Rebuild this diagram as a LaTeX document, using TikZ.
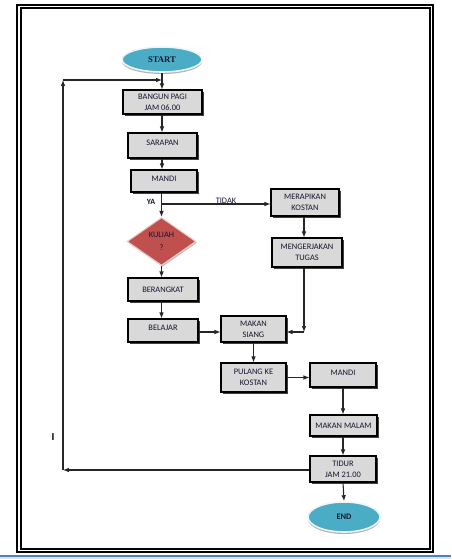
\documentclass[tikz,border=0pt]{standalone}
\usepackage{fontspec}
\setmainfont{Carlito}
\newfontfamily\serifb{Liberation Serif}
\usetikzlibrary{shapes.geometric,arrows.meta,shadows}
\definecolor{boxgray}{HTML}{D9D9D9}
\definecolor{ellblue}{HTML}{4BACC6}
\definecolor{diared}{HTML}{C0504D}
\definecolor{txt}{HTML}{15152E}
\definecolor{lineblue}{HTML}{4F81BD}
\definecolor{paleblue}{HTML}{DCE6F2}
\tikzset{
  stepbox/.style={rectangle, draw=black, line width=0.8pt, fill=boxgray,
    drop shadow={shadow xshift=1.2pt, shadow yshift=-1.2pt, fill=black!75, opacity=1},
    inner sep=0pt, align=center, text=txt, font=\fontsize{6.3}{8.5}\selectfont},
  upper/.style={text depth=4pt},
  term/.style={ellipse, draw=white!90!ellblue, line width=1.2pt, fill=ellblue, inner sep=0pt,
    drop shadow={shadow xshift=0pt, shadow yshift=-1.5pt, fill=black!30, opacity=1}},
  decide/.style={diamond, draw=diared!30, line width=0.8pt, fill=diared, inner sep=0pt,
    drop shadow={shadow xshift=0.8pt, shadow yshift=-1pt, fill=black!25, opacity=1},
    align=center, text=txt, font=\fontsize{6.3}{9.5}\selectfont},
  conn/.style={line width=0.8pt, draw=black!85, -{Latex[length=4.5pt,width=3.5pt]}},
  plain/.style={line width=0.8pt, draw=black!85},
  lbl/.style={text=txt, font=\fontsize{6}{7}\selectfont\bfseries, inner sep=0pt}
}
\begin{document}
\begin{tikzpicture}[x=0.75pt,y=-0.75pt]
\useasboundingbox (0,0) rectangle (451,559);
\fill[white] (0,0) rectangle (451,559);
% page frame
\draw[line width=0.8pt] (17,5) rectangle (433,552);
\draw[line width=0.8pt] (21,8) rectangle (430,549);
\fill[paleblue] (0,556) rectangle (451,559);
\draw[lineblue, line width=0.9pt] (0,556) -- (451,556);

% nodes
\node[term, minimum width=60pt, minimum height=18.75pt, font=\serifb\fontsize{6.5}{7}\selectfont\bfseries, text=txt] (start) at (162,59.5) {START};
\node[stepbox, minimum width=59.25pt, minimum height=18pt] (bangun) at (162.5,102) {BANGUN PAGI\\JAM 06.00};
\node[stepbox, upper, minimum width=51.75pt, minimum height=18.75pt] (sarapan) at (162.5,145.5) {SARAPAN};
\node[stepbox, upper, minimum width=49.5pt, minimum height=16.5pt] (mandi) at (164,181) {MANDI};
\node[decide, minimum width=51.75pt, minimum height=36pt] (kuliah) at (161.5,241.5) {KULIAH\\?};
\node[stepbox, minimum width=52.5pt, minimum height=17.25pt] (berangkat) at (163,289.5) {BERANGKAT};
\node[stepbox, upper, minimum width=52.5pt, minimum height=17.25pt] (belajar) at (163,330.5) {BELAJAR};
\node[stepbox, minimum width=48.75pt, minimum height=19.5pt] (siang) at (253.5,329) {MAKAN\\SIANG};
\node[stepbox, minimum width=51pt, minimum height=20.25pt] (merapikan) at (305,202.5) {MERAPIKAN\\KOSTAN};
\node[stepbox, minimum width=52.5pt, minimum height=21.75pt] (tugas) at (307,252.5) {MENGERJAKAN\\TUGAS};
\node[stepbox, minimum width=48.75pt, minimum height=21.75pt] (pulang) at (253.5,377.5) {PULANG KE\\KOSTAN};
\node[stepbox, upper, minimum width=49.5pt, minimum height=18pt] (mandib) at (343,375) {MANDI};
\node[stepbox, minimum width=50.25pt, minimum height=15.75pt] (malam) at (343.5,425.5) {MAKAN MALAM};
\node[stepbox, minimum width=49.5pt, minimum height=19.5pt] (tidur) at (343,469) {TIDUR\\JAM 21.00};
\node[term, minimum width=54pt, minimum height=22.5pt, font=\fontsize{6.3}{7}\selectfont\bfseries, text=txt] (end) at (344,517) {END};

% labels
\node[lbl] (ya) at (151,202) {YA};
\node[lbl, font=\fontsize{6.3}{7}\selectfont] (tidak) at (226,200.5) {TIDAK};
\node[lbl, font=\fontsize{8}{9}\selectfont\bfseries, text=black] (bar) at (53,437) {I};

% helper coordinates
\coordinate (loopbl) at (63,470);
\coordinate (looptl) at (63,80);
\coordinate (branch) at (161.5,204);
\coordinate (tcorner) at (304,332);

% connectors
\draw[conn] (start.south) -- (bangun.north -| start.south);
\draw[conn] (bangun.south -| start.south) -- (sarapan.north -| start.south);
\draw[conn] (sarapan.south -| start.south) -- (mandi.north -| start.south);
\draw[plain] (mandi.south -| kuliah.north) -- (branch);
\draw[conn] (branch) -- (kuliah.north);
\draw[conn] (branch) -- (branch -| merapikan.west);
\draw[conn] (kuliah.south) -- (kuliah.south |- berangkat.north);
\draw[conn] (berangkat.south -| kuliah.south) -- (belajar.north -| kuliah.south);
\draw[conn] (belajar.east |- tcorner) -- (siang.west |- tcorner);
\draw[conn] (merapikan.south -| tcorner) -- (tugas.north -| tcorner);
\draw[conn] (tugas.south -| tcorner) -- (tcorner);
\draw[conn] (tcorner) -- (siang.east |- tcorner);
\draw[conn] (siang.south) -- (pulang.north);
\draw[conn] (pulang.east) -- (mandib.west |- pulang.east);
\draw[conn] (mandib.south) -- (malam.north -| mandib.south);
\draw[conn] (malam.south -| mandib.south) -- (tidur.north -| mandib.south);
\draw[conn] (tidur.south) -- (end.north);
\draw[conn] (tidur.west |- loopbl) -- (loopbl);
\draw[conn] (loopbl) -- (looptl);
\draw[conn] (looptl) -- (looptl -| start.south);
\end{tikzpicture}
\end{document}
